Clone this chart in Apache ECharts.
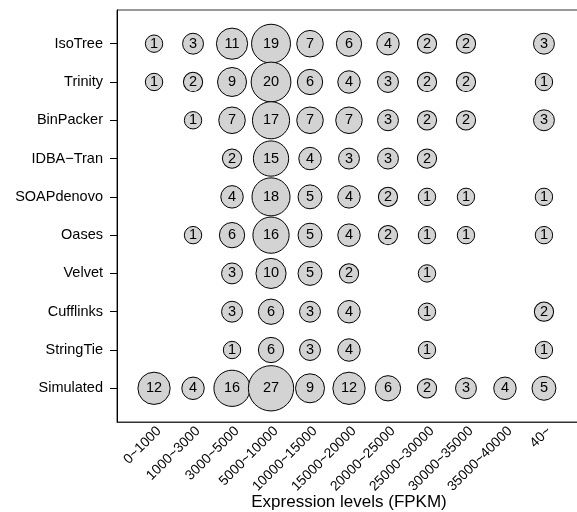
<!DOCTYPE html>
<html>
<head>
<meta charset="utf-8">
<script src="https://cdn.jsdelivr.net/npm/echarts@6/dist/echarts.min.js"></script>
<style>
  html, body { margin: 0; padding: 0; background: #fff; overflow: hidden; }
  #main { width: 577px; height: 512px; }
</style>
</head>
<body>
<div id="main"></div>
<script>
// methods from top to bottom
const methods = ['IsoTree', 'Trinity', 'BinPacker', 'IDBA−Tran', 'SOAPdenovo', 'Oases', 'Velvet', 'Cufflinks', 'StringTie', 'Simulated']
const levels = ['0~1000', '1000~3000', '3000~5000', '5000~10000', '10000~15000', '15000~20000',
  '20000~25000', '25000~30000', '30000~35000', '35000~40000', '40~']

// counts per method, one per expression level (null = no bubble)
const isoTree = [1, 3, 11, 19, 7, 6, 4, 2, 2, null, 3]
const trinity = [1, 2, 9, 20, 6, 4, 3, 2, 2, null, 1]
const binPacker = [null, 1, 7, 17, 7, 7, 3, 2, 2, null, 3]
const idbaTran = [null, null, 2, 15, 4, 3, 3, 2, null, null, null]
const soapDenovo = [null, null, 4, 18, 5, 4, 2, 1, 1, null, 1]
const oases = [null, 1, 6, 16, 5, 4, 2, 1, 1, null, 1]
const velvet = [null, null, 3, 10, 5, 2, null, 1, null, null, null]
const cufflinks = [null, null, 3, 6, 3, 4, null, 1, null, null, 2]
const stringTie = [null, null, 1, 6, 3, 4, null, 1, null, null, 1]
const simulated = [12, 4, 16, 27, 9, 12, 6, 2, 3, 4, 5]

const countRows = [isoTree, trinity, binPacker, idbaTran, soapDenovo, oases, velvet, cufflinks, stringTie, simulated]

let points = []
for (let i = 0; i < countRows.length; ++i) {
  let row = countRows[i]
  for (let j = 0; j < row.length; ++j) {
    if (row[j] == null) continue
    // x: level position (1..11), y: row position (10 at top .. 1 at bottom)
    points.push([j + 1, methods.length - i, row[j]])
  }
}

let yTicks = methods.map((m, i) => methods.length - i)
let xTicks = levels.map((l, i) => i + 1)

const font = "'Liberation Sans', Arial, sans-serif"
let chart = echarts.init(document.getElementById('main'), null, { renderer: 'canvas' })
chart.setOption({
  animation: false,
  textStyle: { fontFamily: font },
  grid: {
    left: 117,
    right: -4, // plot box runs a few px past the right edge, as in the original figure
    top: 10,
    bottom: 90,
    outerBoundsMode: 'none',
    containLabel: false,
    show: true,
    borderColor: '#333',
    borderWidth: 1,
    backgroundColor: 'transparent'
  },
  xAxis: {
    type: 'value',
    min: 0.05,
    max: 11.95,
    name: 'Expression levels (FPKM)',
    nameLocation: 'middle',
    nameGap: 72,
    nameMoveOverlap: false,
    nameTextStyle: { fontSize: 17, color: '#000', fontFamily: font },
    splitLine: { show: false },
    axisLine: { show: true, lineStyle: { color: '#333', width: 1 } },
    axisTick: { show: false, customValues: xTicks },
    axisLabel: {
      customValues: xTicks,
      rotate: 45,
      margin: 2,
      verticalAlign: 'top',
      fontSize: 13.8,
      color: '#000',
      fontFamily: font,
      formatter: function (value) {
        return levels[Math.round(value) - 1] || ''
      }
    }
  },
  yAxis: {
    type: 'value',
    min: 0.12,
    max: 10.88,
    splitLine: { show: false },
    axisLine: { show: true, lineStyle: { color: '#000', width: 1 } },
    axisTick: { show: true, length: 7, customValues: yTicks, lineStyle: { color: '#000' } },
    axisLabel: {
      customValues: yTicks,
      margin: 14,
      fontSize: 14.5,
      color: '#000',
      fontFamily: font,
      formatter: function (value) {
        return methods[methods.length - Math.round(value)] || ''
      }
    }
  },
  series: [{
    type: 'scatter',
    data: points,
    symbol: 'circle',
    symbolSize: function (val) {
      return 8.2 * Math.sqrt(val[2] + 3.5)
    },
    itemStyle: {
      color: '#d3d3d3',
      borderColor: '#000',
      borderWidth: 1,
      opacity: 1
    },
    label: {
      show: true,
      position: 'inside',
      fontSize: 14.5,
      color: '#000',
      fontFamily: font,
      formatter: function (p) {
        return p.value[2]
      }
    },
    emphasis: { disabled: true }
  }]
})
</script>
</body>
</html>
